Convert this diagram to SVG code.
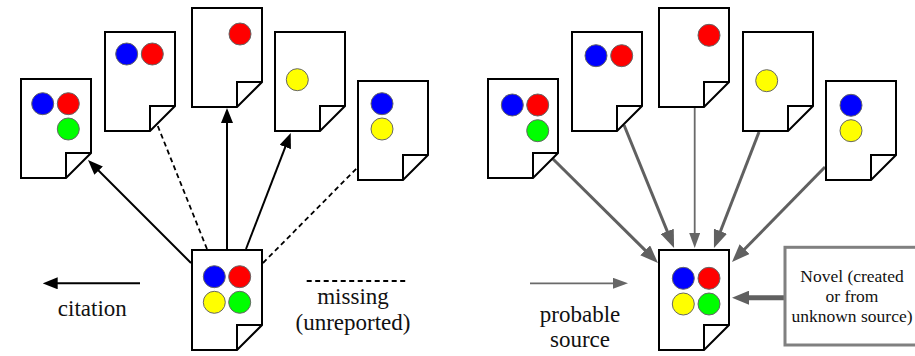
<svg xmlns="http://www.w3.org/2000/svg" width="915" height="356" viewBox="0 0 915 356">
<style>
.doc{fill:#fff;stroke:#000;stroke-width:2;stroke-linejoin:miter}
.fold{fill:none;stroke:#000;stroke-width:2}
.dot{stroke:#666;stroke-width:1}
.b{fill:#0000ff}.r{fill:#ff0000}.g{fill:#00ff00}.y{fill:#ffff00}
.cite{stroke:#000;stroke-width:2;fill:none}
.miss{stroke:#000;stroke-width:1.8;fill:none;stroke-dasharray:5,3.5}
.src{stroke:#606060;stroke-width:3;fill:none}
.src2{stroke:#6a6a6a;stroke-width:1.8;fill:none}
text{font-family:'Liberation Serif','DejaVu Serif',serif;fill:#111;text-anchor:middle}
.lbl{font-size:23px}
.box{font-size:17.5px}
</style>
<defs>
<g id="page"><path class="doc" d="M0,0H70V74L45,99H0Z"/><path class="fold" d="M45,99V74H70"/></g>
<g id="page100"><path class="doc" d="M0,0H70V75L45,100H0Z"/><path class="fold" d="M45,100V75H70"/></g>
<marker id="ah" markerUnits="userSpaceOnUse" markerWidth="15" markerHeight="12" refX="3" refY="6" orient="auto"><path d="M0,0L15,6L0,12Z" fill="#000"/></marker>
<marker id="gh" markerUnits="userSpaceOnUse" markerWidth="18" markerHeight="14" refX="3" refY="7" orient="auto"><path d="M0,0L18,7L0,14Z" fill="#606060"/></marker>
<marker id="gs" markerUnits="userSpaceOnUse" markerWidth="15" markerHeight="11" refX="3" refY="5.5" orient="auto"><path d="M0,0L15,5.5L0,11Z" fill="#666"/></marker>
<marker id="gn" markerUnits="userSpaceOnUse" markerWidth="17" markerHeight="14" refX="3" refY="7" orient="auto"><path d="M0,0L17,7L0,14Z" fill="#606060"/></marker>
</defs>

<g id="connectors">
<line class="cite" x1="191" y1="263" x2="96.5" y2="168.5" marker-end="url(#ah)"/>
<line class="miss" x1="207" y1="249" x2="157" y2="124"/>
<line class="cite" x1="227" y1="250" x2="227" y2="120" marker-end="url(#ah)"/>
<line class="cite" x1="246" y1="249" x2="286.4" y2="144.2" marker-end="url(#ah)"/>
<line class="miss" x1="263" y1="263" x2="358" y2="167"/>
<line class="src" x1="553" y1="159" x2="647.3" y2="252.4" marker-end="url(#gh)"/>
<line class="src" x1="624" y1="125" x2="668.4" y2="234.1" marker-end="url(#gh)"/>
<line class="src2" x1="694.7" y1="107" x2="694.7" y2="236" marker-end="url(#gs)"/>
<line class="src" x1="759" y1="132" x2="719.4" y2="234" marker-end="url(#gh)"/>
<line class="src" x1="825" y1="167" x2="742.5" y2="251.3" marker-end="url(#gh)"/>
<line stroke="#606060" stroke-width="5" x1="785" y1="297.7" x2="746" y2="297.7" marker-end="url(#gn)"/>
</g>

<g id="L1"><use href="#page" x="21" y="79"/><circle class="dot b" cx="42.7" cy="103.7" r="11"/><circle class="dot r" cx="68.3" cy="103.7" r="11"/><circle class="dot g" cx="68.3" cy="129" r="11"/></g>
<g id="L2"><use href="#page" x="105" y="32"/><circle class="dot b" cx="126.7" cy="54" r="11"/><circle class="dot r" cx="152.3" cy="54" r="11"/></g>
<g id="L3"><use href="#page" x="192" y="8"/><circle class="dot r" cx="240" cy="34" r="11"/></g>
<g id="L4"><use href="#page" x="275" y="32"/><circle class="dot y" cx="297.3" cy="79.7" r="11"/></g>
<g id="L5"><use href="#page" x="358" y="81"/><circle class="dot b" cx="382" cy="103.7" r="11"/><circle class="dot y" cx="382" cy="129" r="11"/></g>
<g id="LC"><use href="#page100" x="192" y="250"/><circle class="dot b" cx="214.3" cy="276.7" r="11"/><circle class="dot r" cx="239.7" cy="276.7" r="11"/><circle class="dot y" cx="214.3" cy="302.3" r="11"/><circle class="dot g" cx="239.7" cy="302.3" r="11"/></g>

<g id="R1"><use href="#page" x="488" y="79"/><circle class="dot b" cx="512.3" cy="105" r="11"/><circle class="dot r" cx="537.7" cy="105" r="11"/><circle class="dot g" cx="537.7" cy="130.7" r="11"/></g>
<g id="R2"><use href="#page" x="572" y="32"/><circle class="dot b" cx="596" cy="55.7" r="11"/><circle class="dot r" cx="621.7" cy="55.7" r="11"/></g>
<g id="R3"><use href="#page" x="659" y="8"/><circle class="dot r" cx="709" cy="35.3" r="11"/></g>
<g id="R4"><use href="#page" x="743" y="32"/><circle class="dot y" cx="766.7" cy="80.7" r="11"/></g>
<g id="R5"><use href="#page" x="826" y="81"/><circle class="dot b" cx="851" cy="105.3" r="11"/><circle class="dot y" cx="851" cy="130.7" r="11"/></g>
<g id="RC"><use href="#page100" x="659" y="250"/><circle class="dot b" cx="683.3" cy="278.3" r="11"/><circle class="dot r" cx="709" cy="278.3" r="11"/><circle class="dot y" cx="683.3" cy="304" r="11"/><circle class="dot g" cx="709" cy="304" r="11"/></g>

<g id="novel">
<rect x="785" y="247.3" width="140" height="97.7" fill="#fff" stroke="#808080" stroke-width="3"/>
<text class="box" x="852" y="281.7" font-family="Liberation Serif, serif">Novel (created</text>
<text class="box" x="852" y="301.7" font-family="Liberation Serif, serif">or from</text>
<text class="box" x="852" y="321.7" font-family="Liberation Serif, serif">unknown source)</text>
</g>

<g id="legend">
<line class="cite" x1="140" y1="283.3" x2="54.7" y2="283.3" marker-end="url(#ah)"/>
<text class="lbl" x="92.3" y="315.7">citation</text>
<line class="miss" x1="306.7" y1="281" x2="407.3" y2="281"/>
<text class="lbl" x="353" y="304">missing</text>
<text class="lbl" x="353" y="330">(unreported)</text>
<line class="src2" x1="530" y1="283.3" x2="616" y2="283.3" marker-end="url(#gs)"/>
<text class="lbl" x="580" y="321.7">probable</text>
<text class="lbl" x="580" y="347.3">source</text>
</g>
</svg>
